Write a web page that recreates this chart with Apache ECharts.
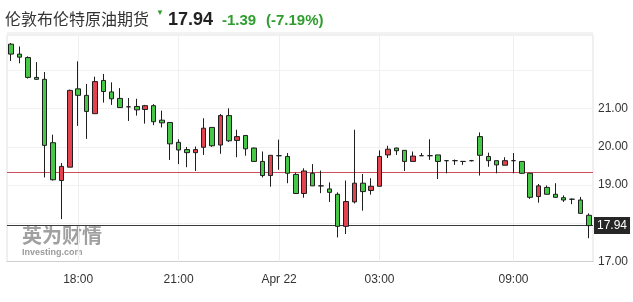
<!DOCTYPE html>
<html>
<head>
<meta charset="utf-8">
<script src="https://cdn.jsdelivr.net/npm/echarts@6/dist/echarts.min.js"></script>
<style>
html,body{margin:0;padding:0;background:#fff;}
#c{width:633px;height:302px;}
</style>
</head>
<body>
<div id="c"></div>
<script>
// ---- data ----
var categories = [
 '16:00','16:15','16:30','16:45','17:00','17:15','17:30','17:45',
 '18:00','18:15','18:30','18:45','19:00','19:15','19:30','19:45','20:00','20:15','20:30','20:45',
 '21:00','21:15','21:30','21:45','22:00','22:15','22:30','22:45','23:00','23:15','23:30','23:45',
 '00:00','00:15','00:30','00:45','01:00','01:15','01:30','01:45','02:00','02:15','02:30','02:45',
 '03:00','03:15','03:30','03:45','04:00','04:15','04:30','04:45',
 '07:00','07:15','07:30','07:45','08:00','08:15','08:30','08:45',
 '09:00','09:15','09:30','09:45','10:00','10:15','10:30','10:45','11:00','11:15'
];
var openV = [22.69,22.43,22.34,21.82,21.77,20.11,19.12,19.47,21.52,21.35,
 20.87,21.74,21.44,21.27,21.05,21.06,20.98,21.08,20.70,20.64,
 20.12,19.93,19.85,19.99,20.51,20.05,20.82,20.17,20.30,19.97,
 19.62,19.25,19.77,19.75,19.28,18.78,19.31,18.98,18.90,18.76,
 17.92,18.56,19.05,18.86,18.97,19.79,19.97,19.91,19.62,19.77,
 19.77,19.79,19.64,19.64,19.62,19.64,20.27,19.75,19.64,19.52,
 19.64,19.62,19.31,18.70,18.94,18.76,18.67,18.63,18.61,18.21];
var closeV = [22.43,22.35,21.82,21.77,20.04,19.14,19.49,21.48,21.35,20.93,
 21.71,21.45,21.26,21.03,21.05,20.97,21.08,20.66,20.63,20.08,
 19.92,19.85,19.93,20.49,20.03,20.82,20.16,20.27,19.95,19.62,
 19.25,19.78,19.77,19.31,18.78,19.37,18.98,18.98,18.81,17.92,
 18.57,19.05,18.83,18.97,19.75,19.94,19.90,19.62,19.76,19.77,
 19.77,19.62,19.64,19.64,19.62,19.64,19.78,19.64,19.53,19.64,
 19.64,19.31,18.68,18.98,18.76,18.68,18.61,18.63,18.26,17.94];
var lowV = [22.25,22.19,21.79,21.76,19.20,19.12,18.11,19.47,20.55,20.21,
 20.87,21.16,21.10,21.03,20.68,20.82,20.61,20.57,20.51,19.66,
 19.55,19.47,19.37,19.79,20.00,19.82,20.13,19.73,19.77,19.62,
 19.20,18.96,19.40,19.05,18.78,18.67,18.98,18.79,18.56,17.63,
 17.72,18.52,18.33,18.75,18.97,19.71,19.79,19.37,19.62,19.77,
 19.66,19.16,19.31,19.53,19.53,19.62,19.25,19.48,19.31,19.52,
 19.31,19.29,18.64,18.54,18.75,18.68,18.56,18.50,18.26,17.61];
var highV = [22.72,22.63,22.37,22.22,21.96,20.32,19.58,21.50,22.24,21.65,
 21.84,21.91,21.69,21.54,21.28,21.26,21.10,21.12,20.95,20.64,
 20.20,20.00,20.01,20.75,20.51,20.86,21.01,20.45,20.30,19.98,
 19.88,19.78,20.19,19.84,19.33,19.44,19.55,19.38,19.07,18.81,
 19.12,20.45,19.29,19.18,19.91,20.03,19.98,19.91,19.88,19.84,
 20.20,19.79,19.64,19.67,19.62,19.66,20.38,19.85,19.64,19.73,
 19.84,19.62,19.31,19.03,18.99,19.05,18.73,18.65,18.69,18.26];
var xTickCats = ['18:00','21:00','00:00','03:00','09:00'];
var xTickText = ['18:00','21:00','Apr 22','03:00','09:00'];
var yTickLabels = [17, 19, 20, 21];
var prevClose = 19.33;
var lastPrice = 17.94;
var change = '-1.39';
var changePct = '(-7.19%)';
var title = '伦敦布伦特原油期货';

// ---- chart ----
var candleData = openV.map(function (o, i) { return [o, closeV[i], lowV[i], highV[i]]; });
var FONT = '"Liberation Sans", Arial, "Noto Sans CJK SC", sans-serif';
var GREEN = '#2f9d2f';

var chart = echarts.init(document.getElementById('c'), null, {renderer: 'canvas'});
chart.setOption({
  animation: false,
  backgroundColor: '#fff',
  grid: {left: 7, right: 40, top: 35, bottom: 40.5, show: true, borderColor: '#e0e0e0', borderWidth: 1},
  xAxis: {
    type: 'category',
    data: categories,
    boundaryGap: true,
    axisLine: {show: true, lineStyle: {color: '#cfcfcf'}},
    axisTick: {show: false},
    splitLine: {show: false},
    axisLabel: {
      interval: function (idx, val) { return xTickCats.indexOf(val) >= 0; },
      formatter: function (val) { var k = xTickCats.indexOf(val); return k >= 0 ? xTickText[k] : ''; },
      color: '#333', fontSize: 12, fontFamily: FONT, margin: 12
    }
  },
  yAxis: {
    type: 'value',
    position: 'right',
    min: 17, max: 22.93, interval: 1,
    axisLine: {show: false},
    axisTick: {show: false},
    splitLine: {show: true, lineStyle: {color: '#f1f1f1'}},
    axisLabel: {
      formatter: function (v) { return yTickLabels.indexOf(Math.round(v * 100) / 100) >= 0 ? v.toFixed(2) : ''; },
      color: '#333', fontSize: 12, fontFamily: FONT, margin: 5
    }
  },
  series: [{
    type: 'candlestick',
    data: candleData,
    barWidth: 5,
    z: 3,
    itemStyle: {
      color: '#e3424f', color0: '#45c845',
      borderColor: '#1e1e1e', borderColor0: '#1e1e1e', borderColorDoji: '#1e1e1e',
      borderWidth: 1
    },
    markLine: {
      silent: true, symbol: 'none', z: 1, animation: false,
      label: {show: false},
      data: xTickCats.map(function (c) {
        return {xAxis: c, lineStyle: {color: '#efefef', width: 1, type: 'solid'}};
      }).concat([
        {yAxis: prevClose, lineStyle: {color: '#c9505c', width: 1, type: 'solid'}},
        {yAxis: lastPrice, lineStyle: {color: '#3a3a3a', width: 1, type: 'solid'},
         label: {show: true, position: 'end', distance: 1, formatter: lastPrice.toFixed(2),
                 backgroundColor: '#262626', color: '#fff', fontSize: 12, fontFamily: FONT,
                 padding: [3, 3, 2, 3]}}
      ])
    }
  }],
  graphic: [
    {type: 'text', left: 5, top: 11, z: 10, style: {text: title, fontSize: 16, fill: '#333', fontFamily: '"Noto Sans CJK SC", sans-serif'}},
    {type: 'text', left: 156, top: 9, z: 10, style: {text: '▼', fontSize: 8, fill: GREEN, fontFamily: FONT}},
    {type: 'text', left: 168, top: 11, z: 10, style: {text: lastPrice.toFixed(2), fontSize: 18, fontWeight: 'bold', fill: '#222', fontFamily: FONT}},
    {type: 'text', left: 222, top: 13, z: 10, style: {text: change, fontSize: 15, fontWeight: 'bold', fill: GREEN, fontFamily: FONT}},
    {type: 'text', left: 266, top: 13, z: 10, style: {text: changePct, fontSize: 15, fontWeight: 'bold', fill: GREEN, fontFamily: FONT}},
    {type: 'line', z: 10, shape: {x1: 7, y1: 33, x2: 593, y2: 33}, style: {stroke: '#e6e6e6', lineWidth: 1}},
    {type: 'text', left: 22, top: 225, z: 0, style: {text: '英为财情', fontSize: 20, fontWeight: 'bold', fill: '#8f8f8f', opacity: 0.85, fontFamily: '"Noto Sans CJK SC", sans-serif'}},
    {type: 'text', left: 22, top: 248, z: 0, style: {text: 'Investing.com', fontSize: 9, fontWeight: 'bold', fill: '#8a8a8a', opacity: 0.85, fontFamily: FONT}}
  ]
});
</script>
</body>
</html>
